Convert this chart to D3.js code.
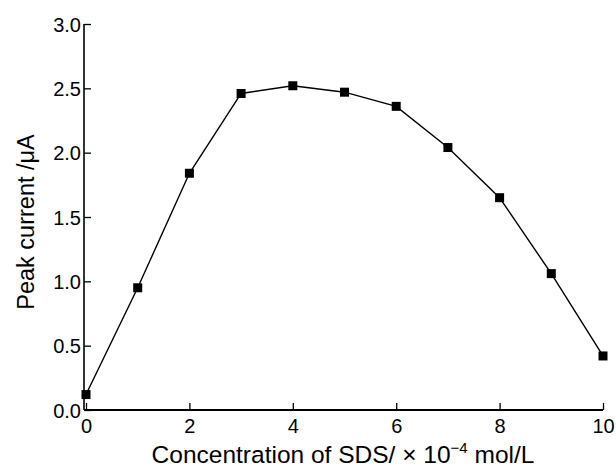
<!DOCTYPE html>
<html>
<head>
<meta charset="utf-8">
<script src="https://cdn.jsdelivr.net/npm/d3@7"></script>
<style>
  body { margin:0; background:#fff; }
  text { font-family: "Liberation Sans", Arial, sans-serif; fill:#000; }
</style>
</head>
<body>
<svg id="chart" width="616" height="468"></svg>
<script>
// data
var conc = [0, 1, 2, 3, 4, 5, 6, 7, 8, 9, 10];
var current = [0.12, 0.95, 1.84, 2.46, 2.52, 2.47, 2.36, 2.04, 1.65, 1.06, 0.42];
var xTicks = [0, 2, 4, 6, 8, 10];
var yTicks = [0, 0.5, 1.0, 1.5, 2.0, 2.5, 3.0];

var svg = d3.select('#chart');

var x = d3.scaleLinear().domain([0, 10]).range([86, 603]);
var y = d3.scaleLinear().domain([0, 3]).range([410, 24]);

//y axis, ticks point inward
var yAxis = svg.append('g')
    .attr('transform', 'translate(84,0)')
    .call(d3.axisRight(y).tickValues(yTicks).tickSize(7).tickFormat(d3.format('.1f')));
yAxis.attr('font-size', null).attr('font-family', null);
yAxis.select('.domain').attr('d', 'M0,' + y(3) + 'V' + y(0)).attr('stroke-width', 1.6);
yAxis.selectAll('.tick line').attr('stroke-width', 1.3);
yAxis.selectAll('.tick text')
    .attr('x', -3).attr('text-anchor', 'end').attr('dy', '0.35em')
    .style('font-size', '20px');

//x axis
var xAxis = svg.append('g')
    .attr('transform', 'translate(0,' + y(0) + ')')
    .call(d3.axisTop(x).tickValues(xTicks).tickSize(7).tickFormat(d3.format('d')));
xAxis.attr('font-size', null).attr('font-family', null);
xAxis.select('.domain').attr('d', 'M84,0H603').attr('stroke-width', 2.2);
xAxis.selectAll('.tick line').attr('stroke-width', 1.3);
xAxis.selectAll('.tick text')
    .attr('y', 23).attr('dy', 0)
    .style('font-size', '20px');

//the curve
var line = d3.line().x(function(d, i) { return x(conc[i]); }).y(function(d) { return y(d); });
svg.append('path')
    .datum(current)
    .attr('d', line)
    .attr('fill', 'none')
    .attr('stroke', '#000')
    .attr('stroke-width', 1.4);

svg.selectAll('rect.pt')
    .data(current)
  .enter().append('rect')
    .attr('class', 'pt')
    .attr('x', function(d, i) { return x(conc[i]) - 4.5; })
    .attr('y', function(d) { return y(d) - 4.5; })
    .attr('width', 9)
    .attr('height', 9)
    .attr('fill', '#000');

//axis titles
svg.append('text')
    .attr('transform', 'translate(34,' + ((y(0) + y(3)) / 2 + 5) + ') rotate(-90)')
    .attr('text-anchor', 'middle')
    .style('font-size', '23.5px')
    .text('Peak current /\u03bcA');

var xt = svg.append('text')
    .attr('x', 343).attr('y', 463)
    .attr('text-anchor', 'middle')
    .style('font-size', '24.5px');
xt.append('tspan').text('Concentration of SDS/ \u00d7 10');
xt.append('tspan').attr('dy', -10).style('font-size', '15px').text('\u22124');
xt.append('tspan').attr('dy', 10).text(' mol/L');
</script>
</body>
</html>
